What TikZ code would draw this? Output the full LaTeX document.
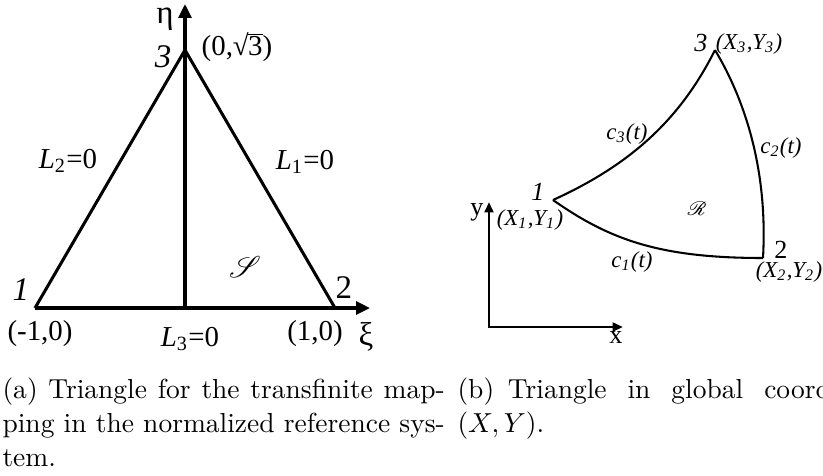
\documentclass[tikz,border=0pt]{standalone}
\usepackage{fontspec}
\usepackage{mathrsfs}
\usetikzlibrary{arrows.meta}
\newfontfamily\tnr{Liberation Serif}
\begin{document}
\begin{tikzpicture}[x=0.3636pt,y=-0.3636pt,
  lbl/.style={inner sep=0pt, font=\tnr\fontsize{10.5}{12}\selectfont},
  greek/.style={inner sep=0pt, font=\tnr\fontsize{12}{14}\selectfont},
  vtx/.style={inner sep=0pt, font=\tnr\fontsize{12}{14}\selectfont},
  blbl/.style={inner sep=0pt, font=\tnr\fontsize{8.3}{10}\selectfont\itshape},
  bvtx/.style={inner sep=0pt, font=\tnr\fontsize{9.5}{11}\selectfont},
  edgeA/.style={line width=1.1pt},
  axisA/.style={line width=1.1pt, -{Triangle[length=5pt,width=4.6pt]}},
  curveB/.style={line width=0.75pt},
  axisB/.style={line width=0.95pt, {Triangle[length=3.8pt,width=3.2pt]}-{Triangle[length=3.8pt,width=3.2pt]}},
  capt/.style={inner sep=0pt, anchor=base west, font=\fontsize{10}{12}\selectfont}]
\useasboundingbox (0,0) rectangle (823,475);
\clip (0,0) rectangle (823,475);
% ---------- (a) ----------
\coordinate (A1) at (35,308);
\coordinate (A2) at (335,308);
\coordinate (A3) at (185,50);
\coordinate (Abase) at (185,308);
\coordinate (Axi) at (370,308);
\coordinate (Aeta) at (185,4);
\draw[edgeA] (A1) -- (A3) -- (A2);
\draw[axisA] (A1) -- (Axi);
\draw[axisA] (Abase) -- (Aeta);
\node[greek] (eta) at (165,19) {η};
\node[greek] (xi) at (366,337) {ξ};
\node[vtx, font=\tnr\fontsize{12}{14}\selectfont\itshape] (a3) at (163,57) {3};
\node[vtx, font=\tnr\fontsize{12}{14}\selectfont\itshape] (a1) at (21,290) {1};
\node[vtx] (a2) at (344,288) {2};
\node[lbl] (p3) at (237,47) {(0,√\kern-0.02em\rlap{\rule[0.69em]{0.5em}{0.05em}}3)};
\node[lbl] (L2) at (68,161) {{\itshape L}\textsubscript{2}=0};
\node[lbl] (L1) at (305,162) {{\itshape L}\textsubscript{1}=0};
\node[lbl] (L3) at (190,339) {{\itshape L}\textsubscript{3}=0};
\node[lbl] (p1) at (40,334) {(-1,0)};
\node[lbl] (p2) at (315,334) {(1,0)};
\node[inner sep=0pt, font=\fontsize{11}{13}\selectfont] (S) at (245,267) {$\mathscr{S}$};
% ---------- (b) ----------
\coordinate (B1) at (553,200);
\coordinate (B2) at (763,258);
\coordinate (B3) at (715,50);
\draw[curveB] (B1) .. controls (630,165) and (680,120) .. (B3);
\draw[curveB] (B3) .. controls (745,100) and (768,170) .. (B2);
\draw[curveB] (B1) .. controls (610,240) and (660,258) .. (B2);
\coordinate (O) at (489,327);
\coordinate (Bx) at (623,327);
\coordinate (By) at (489,202);
\draw[axisB] (By) -- (O) -- (Bx);
\node[bvtx, font=\tnr\fontsize{9.5}{11}\selectfont\itshape] (b3) at (701,43) {3};
\node[bvtx, font=\tnr\fontsize{9.5}{11}\selectfont\itshape] (b1) at (538,192) {1};
\node[bvtx] (b2) at (781,250) {2};
\node[blbl] (q3) at (749,44) {(X\textsubscript{3},Y\textsubscript{3})};
\node[blbl] (q1) at (530,220) {(X\textsubscript{1},Y\textsubscript{1})};
\node[blbl] (q2) at (789,272) {(X\textsubscript{2},Y\textsubscript{2})};
\node[blbl] (c3) at (627,134) {c\textsubscript{3}(t)};
\node[blbl] (c2) at (781,148) {c\textsubscript{2}(t)};
\node[blbl] (c1) at (632,262) {c\textsubscript{1}(t)};
\node[inner sep=0pt, font=\tnr\fontsize{9.5}{11}\selectfont] (ylab) at (477,212) {y};
\node[inner sep=0pt, font=\tnr\fontsize{9.5}{11}\selectfont] (xlab) at (616,337) {x};
\node[inner sep=0pt, font=\fontsize{7.5}{9}\selectfont] (R) at (697,209) {$\mathscr{R}$};
% ---------- captions ----------
\node[capt] (capa1) at (2,398) {\makebox[160.8pt][s]{(a) Triangle for the transfinite map-}};
\node[capt] (capa2) at (2,432) {\makebox[160.8pt][s]{ping in the normalized reference sys-}};
\node[capt] (capa3) at (2,466) {tem.};
\node[capt] (capb1) at (457,398) {(b)\hspace{5pt}\makebox[143pt][s]{Triangle in global coordinates}};
\node[capt] (capb2) at (457,432) {$(X,Y)$.};
\end{tikzpicture}
\end{document}
